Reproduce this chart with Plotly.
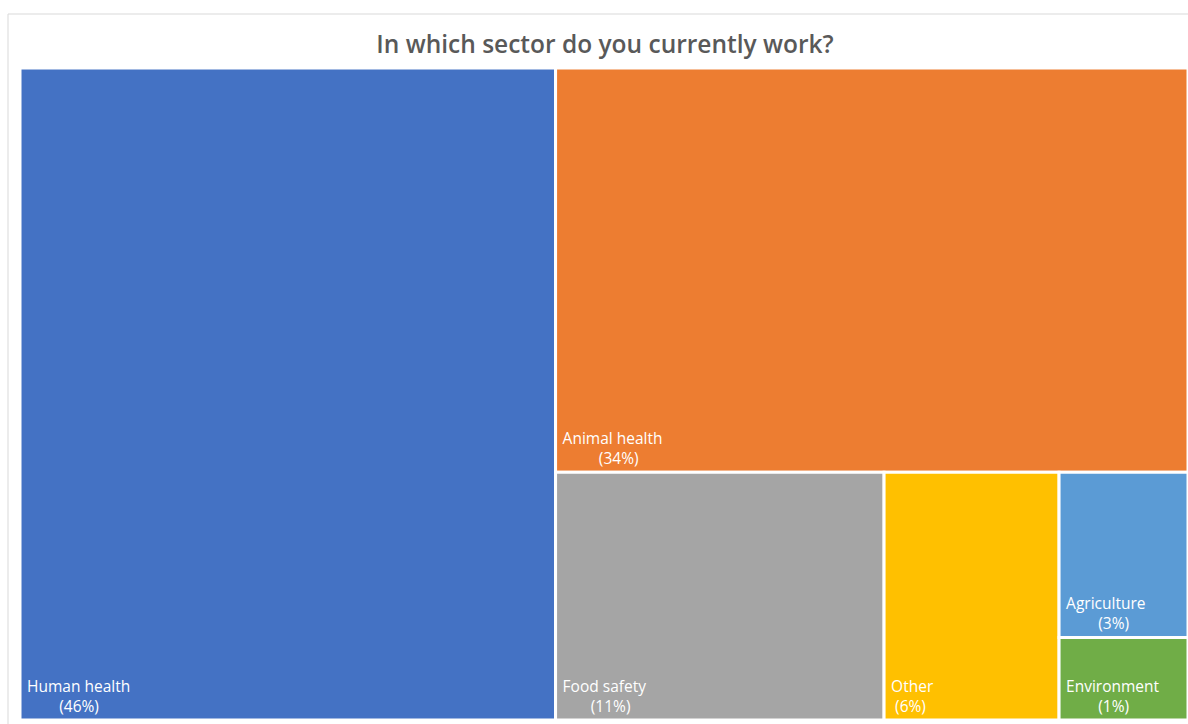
import plotly.graph_objects as go

# Data
labels = ["Human health", "Animal health", "Food safety", "Other", "Agriculture", "Environment"]
values = [45.9, 33.6, 10.7, 5.7, 2.8, 1.4]
colors = ["#4472C4", "#ED7D31", "#A5A5A5", "#FFC000", "#5B9BD5", "#70AD47"]
title_text = "In which sector do you currently work?"

total = sum(values)
NB = "\u00a0"
texts = []
for lab, v in zip(labels, values):
    pct = "(%d%%)" % round(v / total * 100)
    pad = max(0, round((len(lab) - len(pct)) * 1.15))
    texts.append(NB + NB * pad + pct)
lab_txt = [NB + lab for lab in labels]

fig = go.Figure(go.Treemap(
    labels=labels,
    parents=[""] * len(labels),
    values=values,
    text=texts,
    customdata=lab_txt,
    texttemplate="%{customdata}<br>%{text}",
    textposition="bottom left",
    textfont=dict(family="Open Sans", size=15.5, color="white"),
    marker=dict(colors=colors, line=dict(color="white", width=3),
                pad=dict(t=0, l=0, r=0, b=0)),
    tiling=dict(packing="squarify", squarifyratio=1, pad=0),
    pathbar=dict(visible=False),
    sort=True,
    hoverinfo="label+value",
))

fig.update_layout(
    width=1188, height=724,
    margin=dict(l=20, r=0, t=68, b=4),
    paper_bgcolor="white",
    title=dict(text=title_text, x=605 / 1188, xanchor="center",
               y=1 - 44 / 724, yanchor="middle", yref="container",
               font=dict(family="Open Sans", size=24.5, color="#595959", weight=600)),
    shapes=[dict(type="rect", xref="paper", yref="paper",
                 x0=-12 / 1168, x1=1.05, y0=-0.05, y1=1 + 54 / 652,
                 line=dict(color="#D9D9D9", width=1), fillcolor="rgba(0,0,0,0)",
                 layer="below")],
)

fig.write_html("out.html")
